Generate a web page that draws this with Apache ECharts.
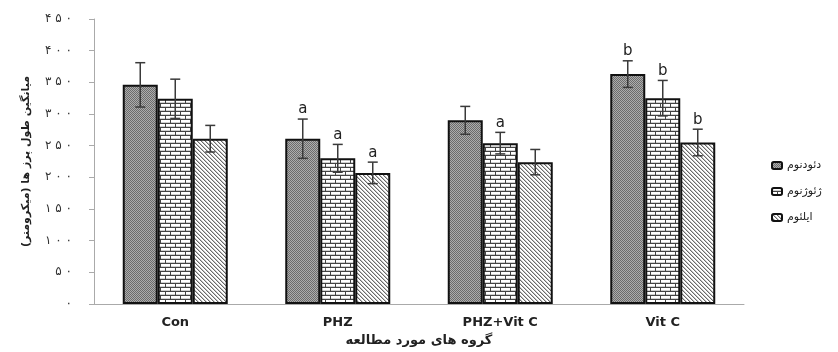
<!DOCTYPE html>
<html>
<head>
<meta charset="utf-8">
<script src="https://cdn.jsdelivr.net/npm/echarts@6/dist/echarts.min.js"></script>
<style>
  html, body { margin: 0; padding: 0; background: #fff; }
  #chart { width: 838px; height: 352px; }
</style>
</head>
<body>
<div id="chart"></div>
<script>
const groups = ['Con', 'PHZ', 'PHZ+Vit C', 'Vit C'];
const seriesNames = ['دئودنوم', 'ژئوژنوم', 'ایلئوم'];

// mean villus length (µm) and SD per segment
const duodenum = [346, 261, 290, 363];
const duodenumSd = [35, 31, 22, 21];
const jejunum = [324, 230, 254, 325];
const jejunumSd = [31, 22, 17, 28];
const ileum = [261, 207, 224, 255];
const ileumSd = [21, 17, 20, 21];

// significance letters above the error bars
const duodenumMarks = ['', 'a', '', 'b'];
const jejunumMarks = ['', 'a', 'a', 'b'];
const ileumMarks = ['', 'a', '', 'b'];

const yTicks = [0, 50, 100, 150, 200, 250, 300, 350, 400, 450];

const FA_DIGITS = '۰۱۲۳۴۵۶۷۸۹';
const toFa = (n) => String(n).split('').map((d) => FA_DIGITS[+d]).join(' ');

const BAR_W = 35;
const FONT = '"DejaVu Sans", sans-serif';

const makePattern = (w, h, draw) => {
  const c = document.createElement('canvas');
  c.width = w;
  c.height = h;
  draw(c.getContext('2d'));
  return { image: c, repeat: 'repeat' };
};

// fine grey checker
const dotPattern = makePattern(2, 2, (ctx) => {
  ctx.fillStyle = '#adadad';
  ctx.fillRect(0, 0, 2, 2);
  ctx.fillStyle = '#6c6c6c';
  ctx.fillRect(0, 0, 1, 1);
  ctx.fillRect(1, 1, 1, 1);
});

// brick
const brickPattern = makePattern(10, 8, (ctx) => {
  ctx.fillStyle = '#fff';
  ctx.fillRect(0, 0, 10, 8);
  ctx.fillStyle = '#d0d0d0';
  ctx.fillRect(0, 2, 10, 1);
  ctx.fillRect(0, 6, 10, 1);
  ctx.fillStyle = '#444';
  ctx.fillRect(0, 3, 10, 1);
  ctx.fillRect(0, 7, 10, 1);
  ctx.fillRect(0, 0, 1, 3);
  ctx.fillRect(5, 4, 1, 3);
});

// diagonal hatch
const diagPattern = makePattern(4, 4, (ctx) => {
  ctx.fillStyle = '#fff';
  ctx.fillRect(0, 0, 4, 4);
  ctx.fillStyle = '#6a6a6a';
  for (let i = 0; i < 4; i++) ctx.fillRect(i, i, 1, 1);
  ctx.fillStyle = '#c4c4c4';
  for (let i = 0; i < 4; i++) ctx.fillRect((i + 1) % 4, i, 1, 1);
});

const patterns = [dotPattern, brickPattern, diagPattern];
const means = [duodenum, jejunum, ileum];
const sds = [duodenumSd, jejunumSd, ileumSd];
const marks = [duodenumMarks, jejunumMarks, ileumMarks];

const barSeries = seriesNames.map((name, i) => ({
  name,
  type: 'bar',
  data: means[i],
  barWidth: BAR_W,
  barGap: '0%',
  itemStyle: {
    color: patterns[i],
    borderColor: '#111',
    borderWidth: 2,
  },
}));

const errorSeries = seriesNames.map((name, i) => ({
  type: 'custom',
  z: 5,
  silent: true,
  data: means[i].map((m, k) => [k, m, sds[i][k]]),
  renderItem: (params, api) => {
    const k = api.value(0);
    const m = api.value(1);
    const sd = api.value(2);
    const mark = marks[i][k];
    const off = (i - 1) * BAR_W;
    const top = api.coord([k, m + sd]);
    const bot = api.coord([k, m - sd]);
    const x = top[0] + off;
    const cap = 5;
    const style = { stroke: '#3a3a3a', lineWidth: 1.5 };
    const children = [
      { type: 'line', shape: { x1: x, y1: top[1], x2: x, y2: bot[1] }, style },
      { type: 'line', shape: { x1: x - cap, y1: top[1], x2: x + cap, y2: top[1] }, style },
      { type: 'line', shape: { x1: x - cap, y1: bot[1], x2: x + cap, y2: bot[1] }, style },
    ];
    if (mark) {
      children.push({
        type: 'text',
        style: {
          text: mark,
          x,
          y: top[1] - 2,
          align: 'center',
          verticalAlign: 'bottom',
          fill: '#222',
          font: '15px ' + FONT,
        },
      });
    }
    return { type: 'group', children };
  },
}));

const chart = echarts.init(document.getElementById('chart'), null, { renderer: 'canvas' });
chart.setOption({
  animation: false,
  grid: { left: 94, right: 94, top: 19, bottom: 48 },
  legend: {
    data: seriesNames,
    orient: 'vertical',
    left: 766,
    top: 155,
    itemWidth: 10,
    itemHeight: 7,
    itemGap: 15,
    textStyle: { fontFamily: FONT, fontSize: 11, color: '#222' },
  },
  xAxis: {
    type: 'category',
    data: groups,
    axisLine: { lineStyle: { color: '#aaa' } },
    axisTick: { length: 4, lineStyle: { color: '#888' } },
    axisLabel: {
      margin: 12,
      fontFamily: FONT,
      fontWeight: 'bold',
      fontSize: 13,
      color: '#222',
    },
    name: 'گروه های مورد مطالعه',
    nameLocation: 'middle',
    nameGap: 30,
    nameTextStyle: { fontFamily: FONT, fontWeight: 'bold', fontSize: 13, color: '#222' },
  },
  yAxis: {
    type: 'value',
    min: yTicks[0],
    max: yTicks[yTicks.length - 1],
    interval: 50,
    splitLine: { show: false },
    axisLine: { show: true, lineStyle: { color: '#aaa' } },
    axisTick: { show: true, length: 5, lineStyle: { color: '#aaa' } },
    axisLabel: {
      margin: 22,
      fontFamily: FONT,
      fontSize: 12,
      color: '#333',
      formatter: (v) => toFa(v),
    },
    name: 'میانگین طول پرز ها (میکرومتر)',
    nameLocation: 'middle',
    nameGap: 62,
    nameTextStyle: { fontFamily: FONT, fontWeight: 'bold', fontSize: 11, color: '#222' },
  },
  series: [...barSeries, ...errorSeries],
});
</script>
</body>
</html>
